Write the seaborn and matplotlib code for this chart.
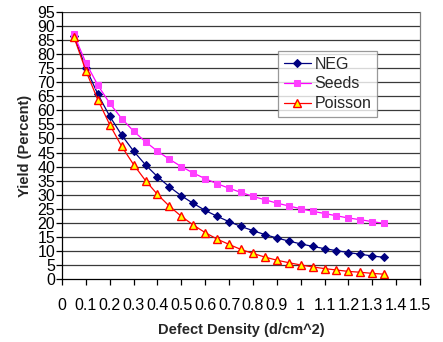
import matplotlib
matplotlib.use("Agg")
import matplotlib.pyplot as plt
import seaborn as sns
import pandas as pd

# Defect density (defects per cm^2)
density = [0.05, 0.10, 0.15, 0.20, 0.25, 0.30, 0.35, 0.40, 0.45, 0.50,
           0.55, 0.60, 0.65, 0.70, 0.75, 0.80, 0.85, 0.90, 0.95, 1.00,
           1.05, 1.10, 1.15, 1.20, 1.25, 1.30, 1.35]

# Yield (percent) for each model
neg = [86.4, 75.1, 65.8, 57.9, 51.2, 45.5, 40.6, 36.4, 32.8, 29.6,
       26.9, 24.4, 22.3, 20.4, 18.7, 17.2, 15.8, 14.6, 13.5, 12.5,
       11.6, 10.8, 10.1, 9.4, 8.8, 8.2, 7.7]
seeds = [87.0, 76.9, 69.0, 62.5, 57.1, 52.6, 48.8, 45.5, 42.6, 40.0,
         37.7, 35.7, 33.9, 32.3, 30.8, 29.4, 28.2, 27.0, 26.0, 25.0,
         24.1, 23.3, 22.5, 21.7, 21.1, 20.4, 19.8]
poisson = [86.1, 74.1, 63.8, 54.9, 47.2, 40.7, 35.0, 30.1, 25.9, 22.3,
           19.2, 16.5, 14.2, 12.3, 10.5, 9.1, 7.8, 6.7, 5.8, 5.0,
           4.3, 3.7, 3.2, 2.7, 2.4, 2.0, 1.7]

x_ticks = [0, 0.1, 0.2, 0.3, 0.4, 0.5, 0.6, 0.7, 0.8, 0.9, 1, 1.1, 1.2, 1.3, 1.4, 1.5]
x_tick_labels = ["0", "0.1", "0.2", "0.3", "0.4", "0.5", "0.6", "0.7", "0.8", "0.9",
                 "1", "1.1", "1.2", "1.3", "1.4", "1.5"]
y_ticks = list(range(0, 96, 5))

df = pd.DataFrame({"density": density, "NEG": neg, "Seeds": seeds, "Poisson": poisson})

sns.set_style("white")
plt.rcParams["font.family"] = ["Liberation Sans", "DejaVu Sans"]

fig = plt.figure(figsize=(4.43, 3.42), dpi=100)
ax = fig.add_axes([62 / 443, 1 - 279 / 342, (420 - 62) / 443, (279 - 12) / 342])

for yv in y_ticks[1:]:
    ax.axhline(yv, color="#3a3a3a", lw=0.9, zorder=0)

sns.lineplot(data=df, x="density", y="NEG", ax=ax, color="#000080", lw=0.9,
             marker="D", markersize=4, markerfacecolor="#000080",
             markeredgecolor="#000080", label="NEG")
sns.lineplot(data=df, x="density", y="Seeds", ax=ax, color="#FF00FF", lw=0.9,
             marker="s", markersize=4.8, markerfacecolor="#FF40FF",
             markeredgecolor="#FF40FF", label="Seeds")
sns.lineplot(data=df, x="density", y="Poisson", ax=ax, color="#FF0000", lw=0.9,
             marker="^", markersize=5.5, markerfacecolor="#FFFF00",
             markeredgecolor="#FF0000", markeredgewidth=1.0, label="Poisson")

ax.set_xlim(0, 1.5)
ax.set_ylim(0, 95)
ax.set_xticks(x_ticks)
ax.set_xticklabels(x_tick_labels)
ax.set_yticks(y_ticks)
ax.tick_params(axis="both", labelsize=11.5, colors="black", direction="out",
               length=4, width=0.9, left=True, bottom=True)
ax.tick_params(axis="x", pad=10)
ax.tick_params(axis="y", pad=1)

for side in ["left", "bottom"]:
    ax.spines[side].set_color("black")
    ax.spines[side].set_linewidth(0.9)
ax.spines["right"].set_color("#808080")
ax.spines["right"].set_linewidth(0.9)
ax.spines["top"].set_visible(False)

ax.set_xlabel("Defect Density (d/cm^2)", fontsize=10.5, fontweight="bold", labelpad=7)
ax.set_ylabel("Yield (Percent)", fontsize=10.5, fontweight="bold", labelpad=4)

leg = ax.legend(loc="upper left", bbox_to_anchor=((278 - 62) / 358, (279 - 51) / 267),
                frameon=True, fancybox=False, edgecolor="#808080", fontsize=11.5,
                handlelength=1.7, borderpad=0.35, labelspacing=0.3, handletextpad=0.25,
                borderaxespad=0)
leg.get_frame().set_linewidth(0.9)
leg.get_frame().set_facecolor("white")

fig.savefig("out.png", dpi=100)
